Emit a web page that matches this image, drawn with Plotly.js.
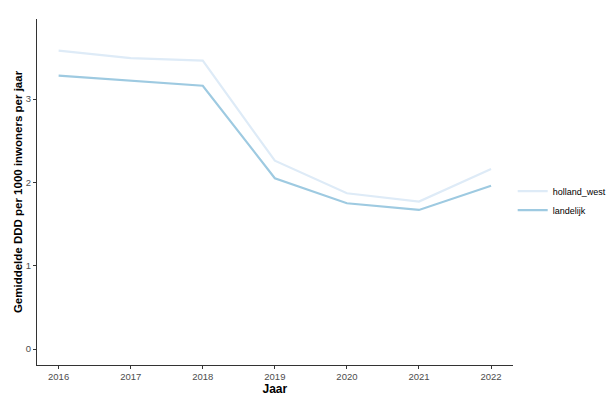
<!DOCTYPE html>
<html><head><meta charset="utf-8">
<script src="https://cdn.plot.ly/plotly-3.0.1.min.js"></script>
<style>html,body{margin:0;padding:0;background:#fff}#c{width:614px;height:399px}</style>
</head><body><div id="c"></div>
<script>
const jaren = [2016, 2017, 2018, 2019, 2020, 2021, 2022];
const hollandWest = [3.58, 3.49, 3.46, 2.26, 1.87, 1.77, 2.16];
const landelijk = [3.28, 3.22, 3.16, 2.05, 1.75, 1.67, 1.96];
const seriesNames = ['holland_west', 'landelijk'];
const yTicks = [0, 1, 2, 3];

const traces = [
  {x: jaren, y: hollandWest, name: seriesNames[0], type: 'scatter', mode: 'lines',
   line: {color: '#deebf7', width: 2.2}},
  {x: jaren, y: landelijk, name: seriesNames[1], type: 'scatter', mode: 'lines',
   line: {color: '#9ecae1', width: 2.2}}
];
const axisCommon = {
  showgrid: false, zeroline: false, showline: true, linecolor: '#333', linewidth: 1,
  ticks: 'outside', ticklen: 3, tickcolor: '#333', tickwidth: 1,
  tickfont: {family: 'Liberation Sans, Arial, sans-serif', size: 9.5, color: '#4d4d4d'}
};
const layout = {
  width: 614, height: 399,
  margin: {l: 37, r: 100, t: 19, b: 34},
  paper_bgcolor: '#fff', plot_bgcolor: '#fff',
  font: {family: 'Liberation Sans, Arial, sans-serif'},
  xaxis: Object.assign({}, axisCommon, {
    automargin: false,
    range: [2015.7, 2022.3], tickvals: jaren, ticktext: jaren.map(String),
    title: {text: '<b>Jaar</b>', font: {size: 12, color: '#000'}, standoff: 0}
  }),
  yaxis: Object.assign({}, axisCommon, {
    automargin: false,
    range: [-0.19, 3.96], tickvals: yTicks, ticktext: yTicks.map(String),
    title: {text: '<b>Gemiddelde DDD per 1000 inwoners per jaar</b>', font: {size: 11.5, color: '#000'}, standoff: 0}
  }),
  showlegend: true,
  legend: {xref: 'container', yref: 'container', x: 0.835, xanchor: 'left', y: 0.497, yanchor: 'middle',
    font: {size: 9, color: '#000'}, tracegroupgap: 0, bgcolor: 'rgba(0,0,0,0)'}
};
Plotly.newPlot('c', traces, layout, {displayModeBar: false, staticPlot: true});
</script></body></html>
